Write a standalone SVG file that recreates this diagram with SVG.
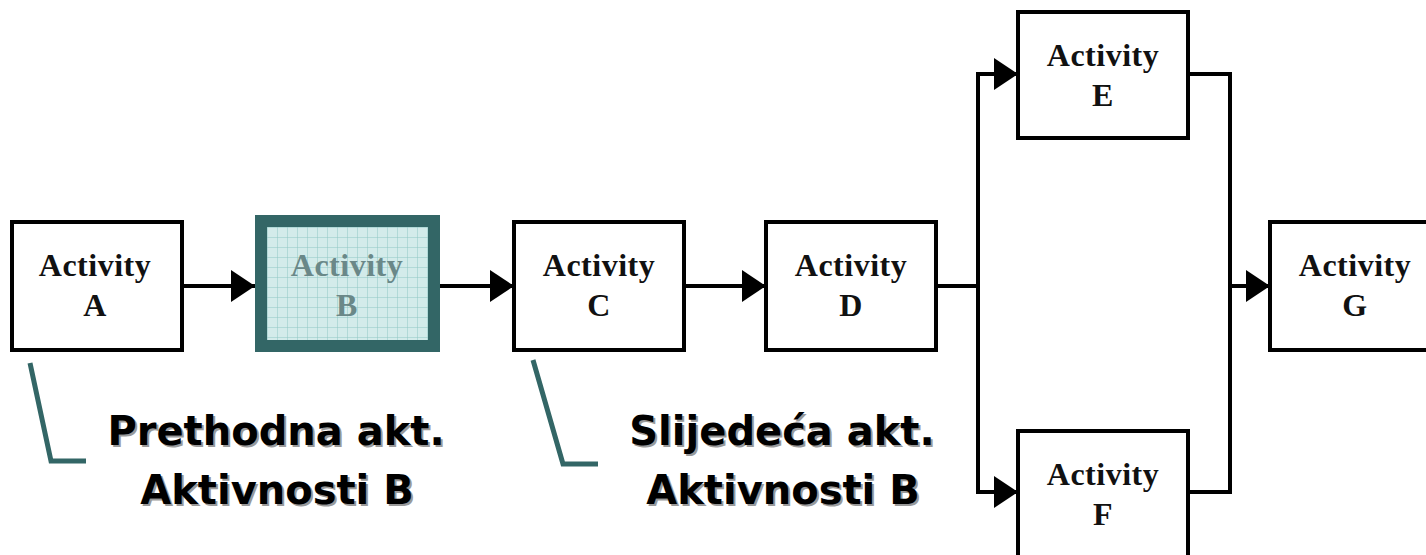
<svg xmlns="http://www.w3.org/2000/svg" width="1426" height="555" viewBox="0 0 1426 555">
<style>
.box{fill:#fff;stroke:#000;stroke-width:4}
.lbl{font-family:"Liberation Serif","Times New Roman",serif;font-weight:bold;font-size:32px;fill:#111;text-anchor:middle;letter-spacing:0.5px}
.lblB{fill:#6a8888}
.con{fill:none;stroke:#000;stroke-width:4}
.call{fill:none;stroke:#336666;stroke-width:5}
.note{font-family:"DejaVu Sans","Verdana",sans-serif;font-weight:bold;font-size:40px;text-anchor:middle;fill:#000}
.shadow{fill:#9a9a9a}
</style>
<defs>
<marker id="arr" markerUnits="userSpaceOnUse" markerWidth="24" markerHeight="32" viewBox="0 0 24 32" refX="24" refY="16" orient="auto">
<path d="M0,0 L24,16 L0,32 Z" fill="#000"/>
</marker>
<pattern id="grid" width="10" height="10" patternUnits="userSpaceOnUse" x="267" y="227">
<rect width="10" height="10" fill="#d3ebea"/>
<path d="M0,0 H10 M0,0 V10" stroke="#8fc7c4" stroke-width="1"/>
</pattern>
</defs>
<g id="connectors">
<line class="con" x1="182" y1="286" x2="255" y2="286" marker-end="url(#arr)"/>
<line class="con" x1="440" y1="286" x2="514" y2="286" marker-end="url(#arr)"/>
<line class="con" x1="684" y1="286" x2="766" y2="286" marker-end="url(#arr)"/>
<polyline class="con" points="936,286 978,286"/>
<polyline class="con" points="1018,74 978,74 978,492 1018,492"/>
<line class="con" x1="978" y1="74" x2="1018" y2="74" marker-end="url(#arr)"/>
<line class="con" x1="978" y1="492" x2="1018" y2="492" marker-end="url(#arr)"/>
<polyline class="con" points="1188,74 1230,74 1230,492 1188,492"/>
<line class="con" x1="1230" y1="286" x2="1270" y2="286" marker-end="url(#arr)"/>
<polyline class="call" points="30,363 51,461 86,461"/>
<polyline class="call" points="533,360 563,464 598,464"/>
</g>
<g id="nodeA">
<rect class="box" x="12" y="222" width="170" height="128"/>
<text class="lbl" x="95" y="276">Activity</text>
<text class="lbl" x="95" y="316">A</text>
</g>
<g id="nodeB">
<rect x="261" y="221" width="173" height="125" fill="url(#grid)" stroke="#336666" stroke-width="12"/>
<text class="lbl lblB" x="347" y="276">Activity</text>
<text class="lbl lblB" x="347" y="316">B</text>
</g>
<g id="nodeC">
<rect class="box" x="514" y="222" width="170" height="128"/>
<text class="lbl" x="599" y="276">Activity</text>
<text class="lbl" x="599" y="316">C</text>
</g>
<g id="nodeD">
<rect class="box" x="766" y="222" width="170" height="128"/>
<text class="lbl" x="851" y="276">Activity</text>
<text class="lbl" x="851" y="316">D</text>
</g>
<g id="nodeE">
<rect class="box" x="1018" y="12" width="170" height="126"/>
<text class="lbl" x="1103" y="66">Activity</text>
<text class="lbl" x="1103" y="106">E</text>
</g>
<g id="nodeF">
<rect class="box" x="1018" y="431" width="170" height="140"/>
<text class="lbl" x="1103" y="485">Activity</text>
<text class="lbl" x="1103" y="525">F</text>
</g>
<g id="nodeG">
<rect class="box" x="1270" y="222" width="170" height="128"/>
<text class="lbl" x="1355" y="276">Activity</text>
<text class="lbl" x="1355" y="316">G</text>
</g>
<g id="note-prev">
<text class="note shadow" x="278" y="447">Prethodna akt.</text>
<text class="note shadow" x="279" y="506">Aktivnosti B</text>
<text class="note" x="276" y="445">Prethodna akt.</text>
<text class="note" x="277" y="504">Aktivnosti B</text>
</g>
<g id="note-next">
<text class="note shadow" x="784" y="447">Slijedeća akt.</text>
<text class="note shadow" x="785" y="506">Aktivnosti B</text>
<text class="note" x="782" y="445">Slijedeća akt.</text>
<text class="note" x="783" y="504">Aktivnosti B</text>
</g>
</svg>
